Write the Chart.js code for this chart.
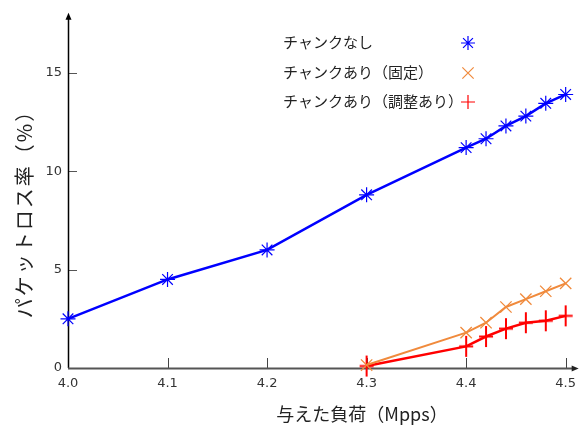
<!DOCTYPE html>
<html>
<head>
<meta charset="utf-8">
<script src="https://cdn.jsdelivr.net/npm/chart.js@4/dist/chart.umd.min.js"></script>
<style>
  html, body { margin: 0; padding: 0; background: #fff; }
  #wrap { width: 584px; height: 432px; }
</style>
</head>
<body>
<div id="wrap"><canvas id="lossChart" width="584" height="432"></canvas></div>
<script>
const xTicks = [4.0, 4.1, 4.2, 4.3, 4.4, 4.5];
const yTicks = [0, 5, 10, 15];

const loadNoChunk = [4.0, 4.1, 4.2, 4.3, 4.4, 4.42, 4.44, 4.46, 4.48, 4.5];
const lossNoChunk = [2.5, 4.5, 6.0, 8.8, 11.2, 11.65, 12.3, 12.8, 13.45, 13.9];

const loadChunk = [4.3, 4.4, 4.42, 4.44, 4.46, 4.48, 4.5];
const lossFixed = [0.15, 1.8, 2.3, 3.1, 3.5, 3.9, 4.3];
const lossAdjusted = [0.1, 1.1, 1.6, 2.0, 2.3, 2.4, 2.65];

const seriesNames = ['チャンクなし', 'チャンクあり（固定）', 'チャンクあり（調整あり）'];
const xTitle = '与えた負荷（Mpps）';
const yTitle = 'パケットロス率（%）';

const BLUE = '#0000ff';
const ORANGE = '#f08a3c';
const RED = '#ff0000';
const CJK = '"Noto Sans CJK JP", "Noto Sans", sans-serif';
const NUM = '"DejaVu Sans", sans-serif';

// tall "+" used for the adjusted series
function plusMarker(color, w, h) {
    const c = document.createElement('canvas');
    c.width = w + 2;
    c.height = h + 2;
    const g = c.getContext('2d');
    g.strokeStyle = color;
    g.lineWidth = 2;
    g.beginPath();
    g.moveTo(c.width / 2, 1);
    g.lineTo(c.width / 2, h + 1);
    g.moveTo(1, c.height / 2);
    g.lineTo(w + 1, c.height / 2);
    g.stroke();
    return c;
}

const toPoints = (xs, ys) => xs.map((x, i) => ({ x, y: ys[i] }));

// axes with arrows and inward ticks, drawn under the lines
const axesPlugin = {
    id: 'axesPlugin',
    beforeDatasetsDraw(chart) {
        const { ctx, chartArea, scales } = chart;
        const x0 = scales.x.getPixelForValue(4.0);
        const y0 = scales.y.getPixelForValue(0);
        ctx.save();

        ctx.strokeStyle = '#444';
        ctx.lineWidth = 1;
        xTicks.forEach(v => {
            const px = Math.round(scales.x.getPixelForValue(v)) + 0.5;
            ctx.beginPath();
            ctx.moveTo(px, y0);
            ctx.lineTo(px, y0 - 10);
            ctx.stroke();
        });
        ctx.strokeStyle = '#555';
        yTicks.forEach(v => {
            const py = Math.round(scales.y.getPixelForValue(v)) + 0.5;
            ctx.beginPath();
            ctx.moveTo(x0, py);
            ctx.lineTo(x0 + 9, py);
            ctx.stroke();
        });

        // y axis
        ctx.strokeStyle = '#000';
        ctx.fillStyle = '#000';
        ctx.lineWidth = 1.5;
        ctx.beginPath();
        ctx.moveTo(x0 + 0.5, y0);
        ctx.lineTo(x0 + 0.5, chartArea.top + 3);
        ctx.stroke();
        ctx.beginPath();
        ctx.moveTo(x0 + 0.5, chartArea.top - 1);
        ctx.lineTo(x0 - 2.5, chartArea.top + 6);
        ctx.lineTo(x0 + 3.5, chartArea.top + 6);
        ctx.closePath();
        ctx.fill();

        // x axis
        const xEnd = chartArea.right + 12;
        ctx.strokeStyle = '#555';
        ctx.fillStyle = '#222';
        ctx.lineWidth = 2;
        ctx.beginPath();
        ctx.moveTo(x0, y0 + 0.5);
        ctx.lineTo(xEnd - 4, y0 + 0.5);
        ctx.stroke();
        ctx.beginPath();
        ctx.moveTo(xEnd + 1, y0 + 0.5);
        ctx.lineTo(xEnd - 6, y0 - 2.5);
        ctx.lineTo(xEnd - 6, y0 + 3.5);
        ctx.closePath();
        ctx.fill();
        ctx.restore();
    },
    afterDraw(chart) {
        const { ctx } = chart;
        ctx.save();
        ctx.fillStyle = '#222';
        ctx.font = '18px ' + CJK;
        ctx.textAlign = 'center';
        ctx.textBaseline = 'middle';
        ctx.fillText(xTitle, 362, 414);

        ctx.font = '20px ' + CJK;
        ctx.letterSpacing = '2px';
        ctx.translate(24, 209);
        ctx.rotate(-Math.PI / 2);
        ctx.fillText(yTitle, 0, 0);
        ctx.restore();

        // legend: text left, marker right
        const rows = [42, 72, 101];
        const styles = [
            { pointStyle: 'star', radius: 7, borderWidth: 1.2, color: BLUE },
            { pointStyle: 'crossRot', radius: 8, borderWidth: 1.3, color: ORANGE },
            { pointStyle: 'cross', radius: 7, borderWidth: 1.5, color: RED }
        ];
        ctx.save();
        ctx.font = '15px ' + CJK;
        ctx.textAlign = 'left';
        ctx.textBaseline = 'middle';
        seriesNames.forEach((name, i) => {
            ctx.fillStyle = '#222';
            ctx.fillText(name, 283, rows[i]);
            const s = styles[i];
            ctx.strokeStyle = s.color;
            ctx.fillStyle = s.color;
            Chart.helpers.drawPoint(ctx, {
                pointStyle: s.pointStyle, radius: s.radius,
                borderWidth: s.borderWidth, rotation: 0
            }, 468, rows[i] + 1);
        });
        ctx.restore();
    }
};

const ctx = document.getElementById('lossChart');

new Chart(ctx, {
    type: 'line',
    data: {
        datasets: [
            {
                label: seriesNames[0],
                data: toPoints(loadNoChunk, lossNoChunk),
                borderColor: BLUE,
                backgroundColor: BLUE,
                borderWidth: 2.5,
                pointStyle: 'star',
                pointRadius: 7.5,
                pointBorderWidth: 1.2,
                pointBorderColor: BLUE,
                clip: false
            },
            {
                label: seriesNames[1],
                data: toPoints(loadChunk, lossFixed),
                borderColor: ORANGE,
                backgroundColor: ORANGE,
                borderWidth: 2,
                pointStyle: 'crossRot',
                pointRadius: 8,
                pointBorderWidth: 1.3,
                pointBorderColor: ORANGE,
                clip: false
            },
            {
                label: seriesNames[2],
                data: toPoints(loadChunk, lossAdjusted),
                borderColor: RED,
                backgroundColor: RED,
                borderWidth: 2.5,
                pointStyle: plusMarker(RED, 14, 21),
                pointRadius: 7,
                clip: false
            }
        ]
    },
    options: {
        responsive: false,
        animation: false,
        layout: { autoPadding: false, padding: { top: 9, right: 16, left: 0, bottom: 0 } },
        plugins: {
            legend: { display: false },
            tooltip: { enabled: false }
        },
        scales: {
            x: {
                type: 'linear',
                min: 4.0,
                max: 4.5,
                afterBuildTicks: scale => { scale.ticks = xTicks.map(v => ({ value: v })); },
                afterFit: scale => { scale.height = 64; },
                grid: { display: false, drawTicks: false },
                border: { display: false },
                ticks: {
                    padding: 8,
                    color: '#333',
                    font: { family: NUM, size: 13 },
                    maxRotation: 0,
                    callback: v => Number(v).toFixed(1)
                }
            },
            y: {
                min: 0,
                max: 18,
                afterBuildTicks: scale => { scale.ticks = yTicks.map(v => ({ value: v })); },
                afterFit: scale => { scale.width = 68; },
                grid: { display: false, drawTicks: false },
                border: { display: false },
                ticks: {
                    padding: 6,
                    color: '#333',
                    font: { family: NUM, size: 13 }
                }
            }
        }
    },
    plugins: [axesPlugin]
});
</script>
</body>
</html>
